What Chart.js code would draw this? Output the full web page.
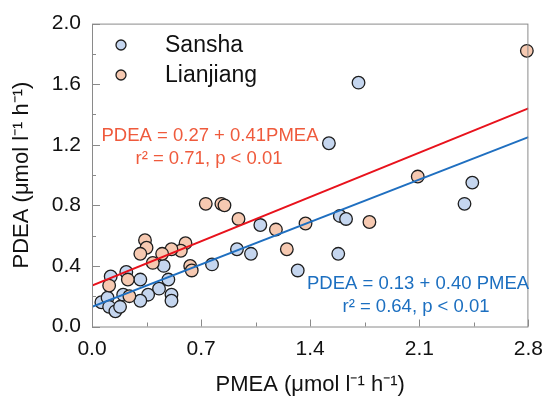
<!DOCTYPE html>
<html>
<head>
<meta charset="utf-8">
<script src="https://cdn.jsdelivr.net/npm/chart.js@4/dist/chart.umd.min.js"></script>
<style>
  body { margin: 0; background: #fff; }
  #wrap { width: 553px; height: 408px; }
</style>
</head>
<body>
<div id="wrap"><canvas id="scatterChart"></canvas></div>
<script>
    // PMEA (x) and PDEA (y)
    const sanshaX = [1.71, 1.52, 2.44, 2.39, 1.59, 1.63, 1.58, 1.32, 1.08, 1.02, 0.93, 0.77,
                     0.46, 0.49, 0.43, 0.51, 0.51, 0.36, 0.31, 0.31, 0.22, 0.20, 0.12,
                     0.06, 0.10, 0.11, 0.15, 0.18];
    const sanshaY = [1.61, 1.21, 0.95, 0.81, 0.73, 0.71, 0.48, 0.37, 0.67, 0.48, 0.51, 0.41,
                     0.40, 0.31, 0.25, 0.21, 0.17, 0.21, 0.17, 0.31, 0.36, 0.21, 0.33,
                     0.16, 0.19, 0.13, 0.10, 0.13];

    const lianjiangX = [2.79, 2.09, 1.78, 1.37, 1.25, 1.18, 0.94, 0.73, 0.83, 0.85,
                        0.60, 0.57, 0.51, 0.45, 0.39, 0.63, 0.64, 0.34, 0.35, 0.31,
                        0.23, 0.24, 0.11];
    const lianjiangY = [1.82, 0.99, 0.69, 0.68, 0.51, 0.64, 0.71, 0.81, 0.81, 0.80,
                        0.55, 0.50, 0.51, 0.48, 0.42, 0.40, 0.37, 0.57, 0.52, 0.48,
                        0.31, 0.20, 0.27];

    // regression lines, ends at x = 0 and x = 2.8
    const fitX = [0, 2.8];
    const lianjiangFit = [0.27, 1.44];
    const sanshaFit = [0.13, 1.25];

    const xTicks = [0.0, 0.7, 1.4, 2.1, 2.8];
    const yTicks = [0.0, 0.4, 0.8, 1.2, 1.6, 2.0];
    const seriesNames = ['Sansha', 'Lianjiang'];

    const toPoints = (xs, ys) => xs.map((x, i) => ({ x: x, y: ys[i] }));

    const blueFill = '#c5d6ef';
    const orangeFill = '#f6c9b1';
    const edge = '#1e1e1e';
    const axisColor = '#8a8a8a';

    // inward ticks, frame, legend and the two equations
    const decorations = {
        id: 'decorations',
        afterDatasetsDraw(chart) {
            const ctx = chart.ctx;
            const area = chart.chartArea;
            const xs = chart.scales.x;
            const ys = chart.scales.y;
            ctx.save();
            ctx.strokeStyle = axisColor;
            ctx.lineWidth = 1;
            ctx.strokeRect(area.left + 0.5, area.top + 0.5, area.right - area.left - 1, area.bottom - area.top);

            ctx.beginPath();
            for (let i = 0; i < xTicks.length; i++) {
                const px = Math.round(xs.getPixelForValue(xTicks[i])) + 0.5;
                ctx.moveTo(px, area.bottom); ctx.lineTo(px, area.bottom - 7);
                if (i < xTicks.length - 1) {
                    const mx = Math.round(xs.getPixelForValue((xTicks[i] + xTicks[i + 1]) / 2)) + 0.5;
                    ctx.moveTo(mx, area.bottom); ctx.lineTo(mx, area.bottom - 4);
                }
            }
            for (let i = 0; i < yTicks.length; i++) {
                const py = Math.round(ys.getPixelForValue(yTicks[i])) + 0.5;
                ctx.moveTo(area.left, py); ctx.lineTo(area.left + 8, py);
                if (i < yTicks.length - 1) {
                    const my = Math.round(ys.getPixelForValue((yTicks[i] + yTicks[i + 1]) / 2)) + 0.5;
                    ctx.moveTo(area.left, my); ctx.lineTo(area.left + 4, my);
                }
            }
            ctx.stroke();

            // legend
            const fills = [blueFill, orangeFill];
            ctx.font = '23px "Liberation Sans", Arial, sans-serif';
            ctx.textBaseline = 'middle';
            ctx.textAlign = 'left';
            for (let i = 0; i < seriesNames.length; i++) {
                const ly = 45 + i * 30;
                ctx.beginPath();
                ctx.arc(121, ly, 5, 0, Math.PI * 2);
                ctx.fillStyle = fills[i];
                ctx.fill();
                ctx.lineWidth = 1.3;
                ctx.strokeStyle = edge;
                ctx.stroke();
                ctx.fillStyle = '#111';
                ctx.fillText(seriesNames[i], 165, ly + 1);
            }

            // equations
            ctx.font = '18.5px "Liberation Sans", Arial, sans-serif';
            ctx.textAlign = 'center';
            ctx.fillStyle = '#ef5a3c';
            ctx.fillText('PDEA = 0.27 + 0.41PMEA', 210, 136);
            ctx.fillText('r\u00b2 = 0.71, p < 0.01', 209, 159);
            ctx.fillStyle = '#1c6fc0';
            ctx.fillText('PDEA = 0.13 + 0.40 PMEA', 418, 284);
            ctx.fillText('r\u00b2 = 0.64, p < 0.01', 416, 307);
            ctx.restore();
        }
    };

    const font = { family: '"Liberation Sans", Arial, sans-serif', size: 21 };

    const ctxScatter = document.getElementById('scatterChart');
    const scatterChart = new Chart(ctxScatter, {
        type: 'scatter',
        data: {
            datasets: [{
                label: seriesNames[0],
                data: toPoints(sanshaX, sanshaY),
                backgroundColor: blueFill,
                borderColor: edge,
                borderWidth: 1.3,
                pointRadius: 6.3,
                order: 2,
                clip: false
            }, {
                label: seriesNames[1],
                data: toPoints(lianjiangX, lianjiangY),
                backgroundColor: orangeFill,
                borderColor: edge,
                borderWidth: 1.3,
                pointRadius: 6.3,
                order: 1,
                clip: false
            }, {
                type: 'line',
                label: 'Lianjiang fit',
                data: toPoints(fitX, lianjiangFit),
                borderColor: '#e8121c',
                borderWidth: 2,
                pointRadius: 0,
                order: 0
            }, {
                type: 'line',
                label: 'Sansha fit',
                data: toPoints(fitX, sanshaFit),
                borderColor: '#1f6fc0',
                borderWidth: 2,
                pointRadius: 0,
                order: 0
            }]
        },
        options: {
            responsive: true,
            maintainAspectRatio: false,
            animation: false,
            layout: { padding: { left: 0, top: 23, right: 20, bottom: 0 } },
            plugins: {
                legend: { display: false },
                tooltip: { enabled: false }
            },
            scales: {
                x: {
                    type: 'linear',
                    min: 0,
                    max: 2.8,
                    afterBuildTicks: scale => { scale.ticks = xTicks.map(v => ({ value: v })); },
                    afterFit: scale => { scale.height = 81.5; },
                    border: { display: false },
                    grid: { display: false, drawTicks: false },
                    ticks: {
                        color: '#111',
                        font: font,
                        padding: 10,
                        maxRotation: 0,
                        callback: v => v.toFixed(1)
                    },
                    title: {
                        display: true,
                        text: 'PMEA (\u03bcmol l\u207b\u00b9 h\u207b\u00b9)',
                        color: '#111',
                        font: { family: font.family, size: 22 },
                        padding: { top: 0, bottom: 10 }
                    }
                },
                y: {
                    min: 0,
                    max: 2.0,
                    afterBuildTicks: scale => { scale.ticks = yTicks.map(v => ({ value: v })); },
                    afterFit: scale => { scale.width = 92; },
                    border: { display: false },
                    grid: { display: false, drawTicks: false },
                    ticks: {
                        color: '#111',
                        font: font,
                        padding: 11,
                        callback: v => v.toFixed(1)
                    },
                    title: {
                        display: true,
                        text: 'PDEA (\u03bcmol l\u207b\u00b9 h\u207b\u00b9)',
                        color: '#111',
                        font: { family: font.family, size: 22 },
                        padding: { top: 9, bottom: 0 }
                    }
                }
            }
        },
        plugins: [decorations]
    });
</script>
</body>
</html>
